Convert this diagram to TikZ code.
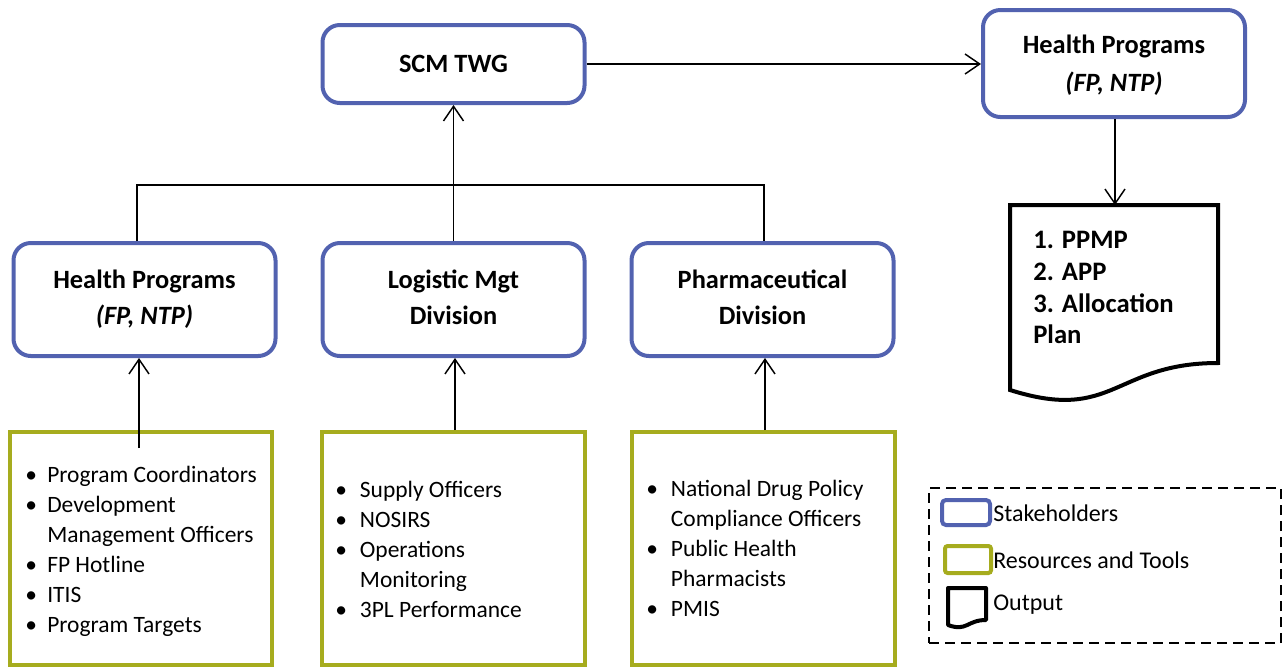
\documentclass[tikz,border=0pt]{standalone}
\usepackage{fontspec}
\setmainfont{Carlito}
\usetikzlibrary{arrows.meta,calc}
\definecolor{stakeblue}{RGB}{82,98,176}
\definecolor{resgreen}{RGB}{166,172,30}
\begin{document}
\begin{tikzpicture}[x=0.75pt,y=-0.75pt,
 stake/.style={draw=stakeblue, line width=3pt, rounded corners=13pt, align=center, font=\bfseries\fontsize{19.8}{27}\selectfont, inner sep=0pt, minimum width=196.5pt},
 stxt/.style={align=center, font=\bfseries\fontsize{19.8}{27}\selectfont, inner sep=0pt},
 res/.style={draw=resgreen, line width=3pt, inner sep=0pt, minimum height=174.75pt},
 arr/.style={-{Straight Barb[length=11pt,width=15pt,line width=1.1pt]}, line width=1.1pt},
 conn/.style={line width=1.1pt},
 lst/.style={anchor=west, inner sep=0pt, font=\fontsize{17.6}{22.5}\selectfont, align=left},
 legtext/.style={anchor=west, inner sep=0pt, font=\fontsize{18}{22}\selectfont},
]
\useasboundingbox (0,0) rectangle (1283,668);
% stakeholders
\node[stake, minimum height=58.5pt] (scm) at (453.5,64) {SCM TWG};
\node[stake, minimum height=80.25pt] (hpr) at (1114,63.5) {};
\node[stxt, font=\bfseries\fontsize{19.8}{28.5}\selectfont] (hprt) at (1114,65.5) {Health Programs\\\textit{(FP, NTP)}};
\node[stake, minimum height=84.75pt] (hpl) at (144.5,299.5) {Health Programs\\\textit{(FP, NTP)}};
\node[stake, minimum height=84.75pt] (lg) at (453.5,299.5) {};
\node[stxt] (lgt) at (453.5,297.5) {Logistic Mgt\\Division};
\node[stake, minimum height=84.75pt] (ph) at (762.5,299.5) {};
\node[stxt] (pht) at (762.5,297.5) {Pharmaceutical\\Division};
% resources
\node[res, minimum width=196.5pt] (g1) at (141,548.5) {};
\node[res, minimum width=197.25pt] (g2) at (453.5,548.5) {};
\node[res, minimum width=197.25pt] (g3) at (763.5,548.5) {};
\node[lst] (l1) at (25,551) {\begin{tabular}{@{}p{16.5pt}@{}l@{}}
\textbullet & Program Coordinators\\
\textbullet & Development\\
 & Management Officers\\
\textbullet & FP Hotline\\
\textbullet & ITIS\\
\textbullet & Program Targets
\end{tabular}};
\node[lst] (l2) at (335,551) {\begin{tabular}{@{}p{18.5pt}@{}l@{}}
\textbullet & Supply Officers\\
\textbullet & NOSIRS\\
\textbullet & Operations\\
 & Monitoring\\
\textbullet & 3PL Performance
\end{tabular}};
\node[lst] (l3) at (646,550.5) {\begin{tabular}{@{}p{18.5pt}@{}l@{}}
\textbullet & National Drug Policy\\
 & Compliance Officers\\
\textbullet & Public Health\\
 & Pharmacists\\
\textbullet & PMIS
\end{tabular}};
% output document
\draw[line width=3pt, line join=miter] (1010,205) -- (1218,205) -- (1218,363) .. controls (1114,363) and (1114,423) .. (1010,390) -- cycle;
\coordinate (doctop) at (1115,205);
\node[anchor=north west, inner sep=0pt, align=left, font=\bfseries\fontsize{20}{23.8}\selectfont] (out) at (1033,231) {1. PPMP\\2. APP\\3. Allocation\\Plan};
% connectors
\draw[arr] (scm.east) -- (scm.east -| hpr.west);
\draw[arr] (hpr.south -| doctop) -- (doctop);
\coordinate (tl) at (137,185);
\coordinate (tr) at (764,185);
\draw[conn] (tl |- hpl.north) -- (tl) -- (tr) -- (tr |- ph.north);
\draw[arr] (lg.north) -- (scm.south);
\coordinate (a1) at (139,448);
\coordinate (a2) at (455,430);
\coordinate (a3) at (765,430);
\draw[arr] (a1) -- (a1 |- hpl.south);
\draw[arr] (a2) -- (a2 |- lg.south);
\draw[arr] (a3) -- (a3 |- ph.south);
% legend
\node[draw, dashed, dash pattern=on 7.5pt off 4.5pt, line width=1.5pt, minimum width=264pt, minimum height=116.25pt, inner sep=0pt] (leg) at (1105,565.5) {};
\node[draw=stakeblue, line width=3pt, rounded corners=3pt, minimum width=36pt, minimum height=18.75pt, inner sep=0pt] (lb) at (966,512.5) {};
\node[draw=resgreen, line width=3pt, rounded corners=2pt, minimum width=34.5pt, minimum height=20.25pt, inner sep=0pt] (lgn) at (968,559.5) {};
\draw[line width=3pt, line join=round] (948,588) -- (986,588) -- (986,620) .. controls (967,620) and (967,632) .. (948,625) -- cycle;
\node[legtext] (t1) at (993,513) {Stakeholders};
\node[legtext] (t2) at (993,560) {Resources and Tools};
\node[legtext] (t3) at (993,605) {Output};
\end{tikzpicture}
\end{document}
